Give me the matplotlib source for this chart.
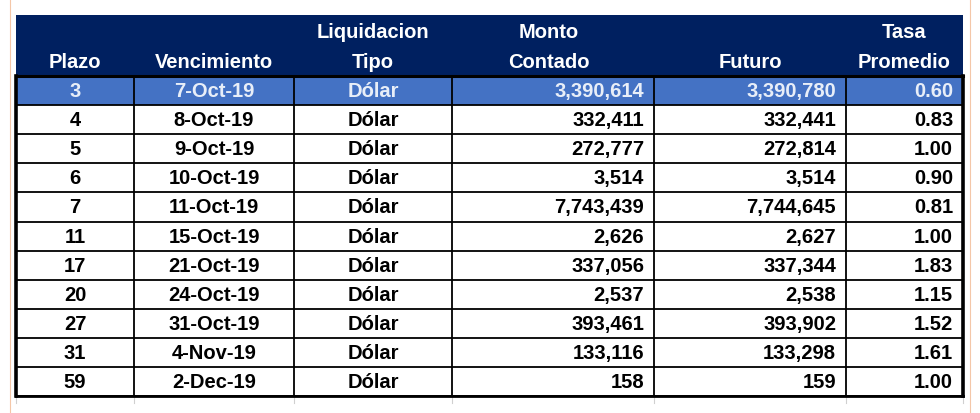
import matplotlib.pyplot as plt
from matplotlib.patches import Rectangle

plt.rcParams['font.family'] = ['Liberation Sans', 'DejaVu Sans']

plazo = [3, 4, 5, 6, 7, 11, 17, 20, 27, 31, 59]
vencimiento = ['7-Oct-19', '8-Oct-19', '9-Oct-19', '10-Oct-19', '11-Oct-19', '15-Oct-19',
               '21-Oct-19', '24-Oct-19', '31-Oct-19', '4-Nov-19', '2-Dec-19']
tipo = ['Dólar'] * 11
contado = [3390614, 332411, 272777, 3514, 7743439, 2626, 337056, 2537, 393461, 133116, 158]
futuro = [3390780, 332441, 272814, 3514, 7744645, 2627, 337344, 2538, 393902, 133298, 159]
tasa = [0.60, 0.83, 1.00, 0.90, 0.81, 1.00, 1.83, 1.15, 1.52, 1.61, 1.00]

header_top = ['', '', 'Liquidacion', 'Monto', '', 'Tasa']
header_bot = ['Plazo', 'Vencimiento', 'Tipo', 'Contado', 'Futuro', 'Promedio']

# layout in pixels
col_x = [16, 134, 294, 452, 654, 846, 963]
head_y0, head_y1 = 15, 76
row_h = 29.1
fs = 14.5
navy = '#002060'
blue = '#4472C4'

fig = plt.figure(figsize=(9.8, 4.13), dpi=100)
ax = fig.add_axes([0, 0, 1, 1])
ax.set_xlim(0, 980)
ax.set_ylim(413, 0)
ax.axis('off')

# faint sheet gridlines outside the table
ax.plot([10, 10], [0, 413], color='#F4C7A8', lw=0.8)
ax.plot([970, 970], [0, 413], color='#F4C7A8', lw=0.8)
for xx in col_x:
    ax.plot([xx, xx], [head_y1 + row_h * 11, 403], color='#D0D0D0', lw=0.8)

# header
ax.add_patch(Rectangle((col_x[0], head_y0), col_x[-1] - col_x[0], head_y1 - head_y0,
                       facecolor=navy, edgecolor='none'))
for i in range(6):
    cx = (col_x[i] + col_x[i + 1]) / 2
    if i == 3:
        cx -= 4
    ax.text(cx, 32, header_top[i], color='white', fontsize=fs, fontweight='bold',
            ha='center', va='center')
    ax.text(cx, 62, header_bot[i], color='white', fontsize=fs, fontweight='bold',
            ha='center', va='center')

# rows
for r in range(len(plazo)):
    y0 = head_y1 + r * row_h
    yc = y0 + row_h / 2 + 1
    if r == 0:
        ax.add_patch(Rectangle((col_x[0], y0), col_x[-1] - col_x[0], row_h,
                               facecolor=blue, edgecolor='none'))
        tc = '#E8EEF8'
    else:
        tc = 'black'
    vals = [str(plazo[r]), vencimiento[r], tipo[r],
            '{:,}'.format(contado[r]), '{:,}'.format(futuro[r]), '%.2f' % tasa[r]]
    for i, v in enumerate(vals):
        if i < 3:
            ax.text((col_x[i] + col_x[i + 1]) / 2, yc, v, color=tc, fontsize=fs,
                    fontweight='bold', ha='center', va='center')
        else:
            ax.text(col_x[i + 1] - 10, yc, v, color=tc, fontsize=fs,
                    fontweight='bold', ha='right', va='center')
    ax.plot([col_x[0], col_x[-1]], [y0 + row_h, y0 + row_h], color='black', lw=1.3)

bottom = head_y1 + row_h * len(plazo)
ax.plot([col_x[0], col_x[-1]], [head_y1, head_y1], color='black', lw=2.2)
for i, xx in enumerate(col_x):
    ax.plot([xx, xx], [head_y1, bottom], color='black', lw=2.6 if i in (0, 6) else 1.3)
ax.plot([col_x[0], col_x[-1]], [bottom, bottom], color='black', lw=2)

fig.savefig('out.png', dpi=100)
